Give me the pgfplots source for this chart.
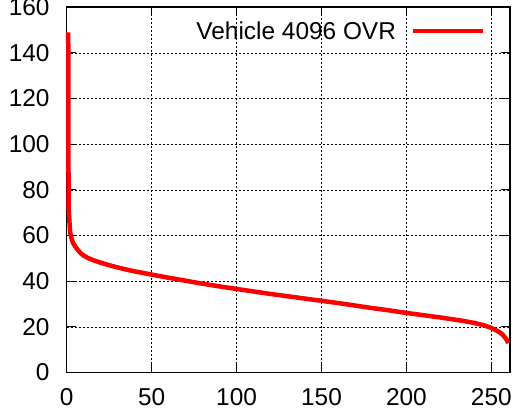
\documentclass[border=0pt]{standalone}
\usepackage{fontspec}
\setmainfont{Liberation Sans}
\usepackage{pgfplots}
\pgfplotsset{compat=1.18}
\begin{document}
\begin{tikzpicture}
\begin{axis}[
  name=ax,
  scale only axis,
  width=443.3bp, height=365.3bp,
  xmin=0, xmax=261, ymin=0, ymax=160,
  xtick={0,50,...,250}, ytick={0,20,...,160},
  /pgf/number format/assume math mode=true,
  font=\fontsize{24.5}{29}\selectfont,
  tick align=inside,
  major tick length=9bp,
  every tick/.style={black, line width=1.2bp},
  axis line style={black, line width=1.5bp},
  grid=major,
  major grid style={black, line width=0.6bp, dash pattern=on 2bp off 2bp},
  yticklabel style={anchor=east, inner sep=0pt, xshift=-17bp},
  xticklabel style={anchor=north, inner sep=0pt, yshift=-15.5bp},
  clip=false,
  legend plot pos=right,
  legend cell align=right,
  legend style={draw=none, fill=none, inner sep=0pt, nodes={inner sep=0pt},
    at={(rel axis cs:0.9445,0.9349)}, anchor=east},
  legend image code/.code={\path (0bp,0bp); \draw[red, line width=4bp] (15bp,0bp) -- (85bp,0bp);},
]
\addplot[red, line width=4.5bp, line join=round] coordinates {
(0.9,149) (1.1,72) (2,61.5) (3,58.3) (4,56.4) (5,55.2) (6,54.2) (8,52.4)
(10,51.2) (13,50) (16,49.1) (20,48.1) (25,47) (30,46) (35,45.1)
(40,44.3) (50,42.9) (60,41.5) (70,40.2) (80,38.9) (90,37.7) (100,36.6)
(110,35.5) (120,34.4) (130,33.4) (140,32.4) (150,31.4) (160,30.4)
(170,29.3) (180,28.2) (190,27.2) (200,26.1) (210,25.1) (220,24.1)
(230,23.0) (235,22.4) (240,21.7) (245,20.8) (248,20.1) (250,19.5)
(252,18.8) (254,18.0) (256,17.0) (257,16.3) (258,15.4) (259,14.4) (260,12.9)
};
\addlegendentry{Vehicle 4096 OVR}
\end{axis}
\pgfresetboundingbox
\path ([xshift=-66.7bp,yshift=-45.5bp]ax.south west) rectangle ([xshift=3bp,yshift=7.2bp]ax.north east);
\end{tikzpicture}
\end{document}
